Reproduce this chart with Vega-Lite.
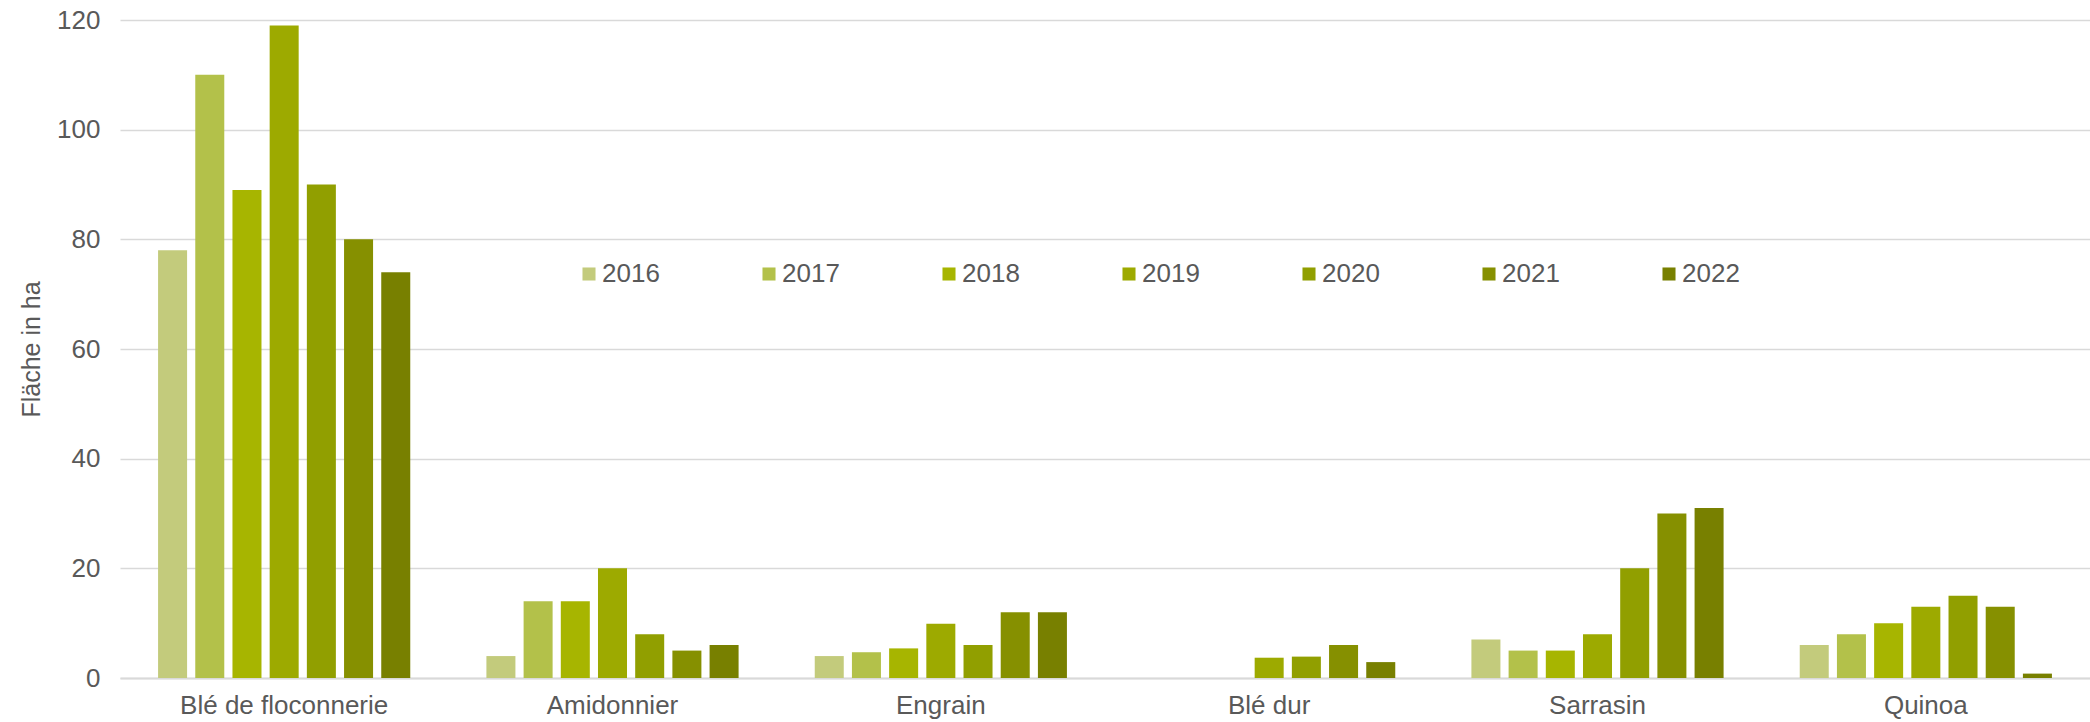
{
  "$schema": "https://vega.github.io/schema/vega-lite/v6.json",
  "width": 1970,
  "height": 658,
  "autosize": {"type": "none"},
  "padding": {"left": 120, "top": 20, "right": 0, "bottom": 44},
  "background": "white",
  "config": {
    "view": {"stroke": null},
    "font": "Liberation Sans",
    "axis": {"labelColor": "#595959", "titleColor": "#595959", "labelFont": "Liberation Sans", "titleFont": "Liberation Sans"}
  },
  "data": {
    "values": [
      {"crop": "Blé de floconnerie", "year": "2016", "area": 78},
      {"crop": "Blé de floconnerie", "year": "2017", "area": 110},
      {"crop": "Blé de floconnerie", "year": "2018", "area": 89},
      {"crop": "Blé de floconnerie", "year": "2019", "area": 119},
      {"crop": "Blé de floconnerie", "year": "2020", "area": 90},
      {"crop": "Blé de floconnerie", "year": "2021", "area": 80},
      {"crop": "Blé de floconnerie", "year": "2022", "area": 74},
      {"crop": "Amidonnier", "year": "2016", "area": 4},
      {"crop": "Amidonnier", "year": "2017", "area": 14},
      {"crop": "Amidonnier", "year": "2018", "area": 14},
      {"crop": "Amidonnier", "year": "2019", "area": 20},
      {"crop": "Amidonnier", "year": "2020", "area": 8},
      {"crop": "Amidonnier", "year": "2021", "area": 5},
      {"crop": "Amidonnier", "year": "2022", "area": 6},
      {"crop": "Engrain", "year": "2016", "area": 4},
      {"crop": "Engrain", "year": "2017", "area": 4.7},
      {"crop": "Engrain", "year": "2018", "area": 5.4},
      {"crop": "Engrain", "year": "2019", "area": 9.9},
      {"crop": "Engrain", "year": "2020", "area": 6},
      {"crop": "Engrain", "year": "2021", "area": 12},
      {"crop": "Engrain", "year": "2022", "area": 12},
      {"crop": "Blé dur", "year": "2016", "area": 0},
      {"crop": "Blé dur", "year": "2017", "area": 0},
      {"crop": "Blé dur", "year": "2018", "area": 0},
      {"crop": "Blé dur", "year": "2019", "area": 3.7},
      {"crop": "Blé dur", "year": "2020", "area": 3.9},
      {"crop": "Blé dur", "year": "2021", "area": 6},
      {"crop": "Blé dur", "year": "2022", "area": 2.9},
      {"crop": "Sarrasin", "year": "2016", "area": 7},
      {"crop": "Sarrasin", "year": "2017", "area": 5},
      {"crop": "Sarrasin", "year": "2018", "area": 5},
      {"crop": "Sarrasin", "year": "2019", "area": 8},
      {"crop": "Sarrasin", "year": "2020", "area": 20},
      {"crop": "Sarrasin", "year": "2021", "area": 30},
      {"crop": "Sarrasin", "year": "2022", "area": 31},
      {"crop": "Quinoa", "year": "2016", "area": 6},
      {"crop": "Quinoa", "year": "2017", "area": 8},
      {"crop": "Quinoa", "year": "2018", "area": 10},
      {"crop": "Quinoa", "year": "2019", "area": 13},
      {"crop": "Quinoa", "year": "2020", "area": 15},
      {"crop": "Quinoa", "year": "2021", "area": 13},
      {"crop": "Quinoa", "year": "2022", "area": 0.8}
    ]
  },
  "mark": {"type": "bar"},
  "encoding": {
    "x": {
      "field": "crop",
      "type": "nominal",
      "sort": null,
      "scale": {"paddingInner": 0.207, "paddingOuter": 0.1035},
      "axis": {
        "title": null,
        "labelAngle": 0,
        "labelFontSize": 26,
        "labelPadding": 14,
        "ticks": false,
        "domain": true,
        "domainColor": "#d9d9d9",
        "domainWidth": 2,
        "labelLimit": 400
      }
    },
    "xOffset": {
      "field": "year",
      "type": "nominal",
      "scale": {"paddingInner": 0.22, "paddingOuter": 0.11}
    },
    "y": {
      "field": "area",
      "type": "quantitative",
      "scale": {"domain": [0, 120]},
      "axis": {
        "title": "Fläche in ha",
        "titleFontSize": 25,
        "titleFontWeight": "normal",
        "titleX": -76,
        "titlePadding": 0,
        "values": [0, 20, 40, 60, 80, 100, 120],
        "labelFontSize": 26,
        "labelPadding": 20,
        "ticks": false,
        "domain": false,
        "grid": true,
        "gridColor": "#d9d9d9",
        "gridWidth": 1.5
      }
    },
    "color": {
      "field": "year",
      "type": "nominal",
      "scale": {
        "domain": ["2016", "2017", "2018", "2019", "2020", "2021", "2022"],
        "range": ["#c3cb7c", "#b3c14a", "#a7b500", "#9daa00", "#919f00", "#869000", "#788000"]
      },
      "legend": {
        "title": null,
        "orient": "none",
        "legendX": 456,
        "legendY": 241,
        "direction": "horizontal",
        "columns": 7,
        "symbolType": "square",
        "symbolSize": 170,
        "symbolStrokeWidth": 0,
        "labelFontSize": 26,
        "labelColor": "#595959",
        "labelOffset": 0,
        "columnPadding": 96
      }
    }
  }
}
